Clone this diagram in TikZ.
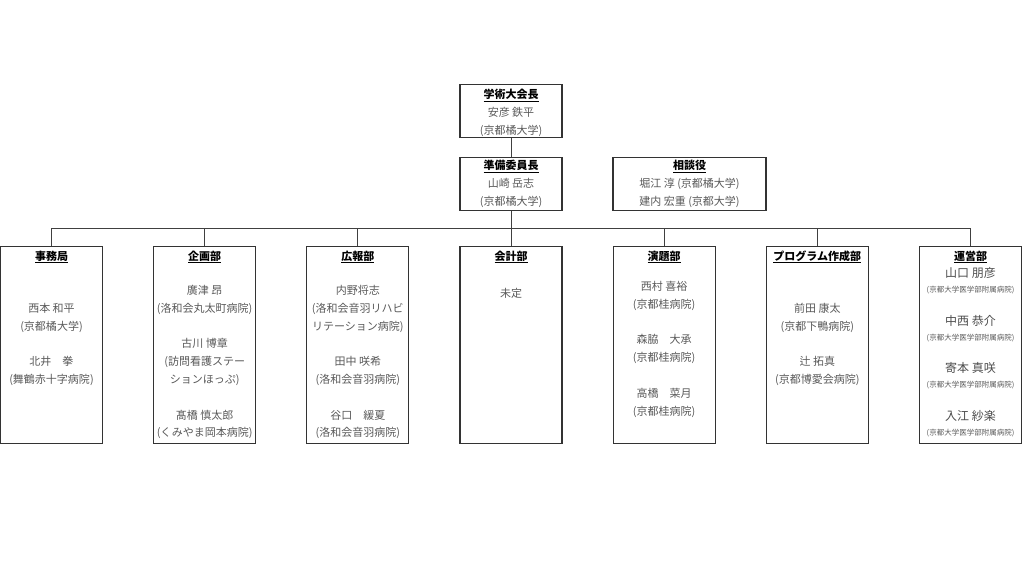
\documentclass[tikz,border=0pt]{standalone}
\usepackage{fontspec}
\setmainfont{Noto Sans CJK JP}
\definecolor{namegray}{HTML}{595959}
\tikzset{
  post/.style={draw=black!80,line width=1.2pt,minimum width=102pt,minimum height=197pt,inner sep=0pt,anchor=north},
  head/.style={font=\fontsize{11}{13}\selectfont\bfseries,anchor=base,inner sep=0pt},
  member/.style={text=namegray,font=\fontsize{11}{17.8}\selectfont,align=center,anchor=north,inner sep=0pt,execute at begin node=\strut},
  staff/.style={text=black!70,font=\fontsize{12}{14}\selectfont,anchor=base,inner sep=0pt},
  aff/.style={text=namegray,font=\fontsize{7.5}{9}\selectfont,anchor=base,inner sep=0pt},
  link/.style={draw=black!75,line width=0.9pt}
}
\newcommand{\hd}[1]{\underline{#1}}
\begin{document}
\begin{tikzpicture}[x=1pt,y=-1pt]
\useasboundingbox (0,0) rectangle (1024,576);
\node[post,minimum height=53pt] (taikai) at (511,84) {};
\node[head] (taikai-hd) at (511,98.6) {\hd{学術大会長}};
\node[member] (taikai-nm) at (511,107) {安彦 鉄平\\(京都橘大学)};
\node[post,minimum height=53pt] (junbi) at (511,157) {};
\node[head] (junbi-hd) at (511,169.6) {\hd{準備委員長}};
\node[member] (junbi-nm) at (511,178) {山崎 岳志\\(京都橘大学)};
\node[post,minimum height=53pt,minimum width=153pt] (sodan) at (689.5,157) {};
\node[head] (sodan-hd) at (689.5,169.6) {\hd{相談役}};
\node[member] (sodan-nm) at (689.5,178) {堀江 淳 (京都橘大学)\\建内 宏重 (京都大学)};
\foreach \nm/\x/\lbl in {jimu/51.5/事務局,kikaku/204.7/企画部,koho/357.8/広報部,kaikei/511/会計部,endai/664.2/演題部,program/817.3/プログラム作成部,unei/970.5/運営部}{
  \node[post] (\nm) at (\x,246) {};
  \node[head] (\nm-hd) at (\x,260) {\hd{\lbl}};
}
\coordinate (bus) at (511,228.5);
\draw[link] (taikai) -- (junbi);
\draw[link] (junbi) -- (bus);
\foreach \nm in {jimu,kikaku,koho,kaikei,endai,program,unei}
  \draw[link] (\nm.north) |- (bus);
\node[member] (jimu-nm) at (51.5,303) {西本 和平\\(京都橘大学)\\[17.8pt]北井　拳\\(舞鶴赤十字病院)};
\node[member] (kikaku-nm) at (204.7,285) {廣津 昂\\(洛和会丸太町病院)\\[17.8pt]古川 博章\\(訪問看護ステー\\ションほっぷ)\\[17.8pt]髙橋 慎太郎\\(くみやま岡本病院)};
\node[member] (koho-nm) at (357.8,285) {内野将志\\(洛和会音羽リハビ\\リテーション病院)\\[17.8pt]田中 咲希\\(洛和会音羽病院)\\[17.8pt]谷口　緩夏\\(洛和会音羽病院)};
\node[member] (kaikei-nm) at (511,285) {未定};
\node[member] (endai-nm) at (664.2,281) {西村 喜裕\\(京都桂病院)\\[17.8pt]森脇　大承\\(京都桂病院)\\[17.8pt]高橋　菜月\\(京都桂病院)};
\node[member] (program-nm) at (817.3,303) {前田 康太\\(京都下鴨病院)\\[17.8pt]辻 拓真\\(京都博愛会病院)};
\foreach \nm/\y [count=\i] in {山口 朋彦/273,中西 恭介/321,寄本 真咲/368,入江 紗楽/416}{
  \node[staff] (unei-\i) at (970.5,\y+4.4) {\nm};
  \node[aff] (unei-af\i) at (970.5,\y+19.3) {(京都大学医学部附属病院)};
}
\end{tikzpicture}
\end{document}
